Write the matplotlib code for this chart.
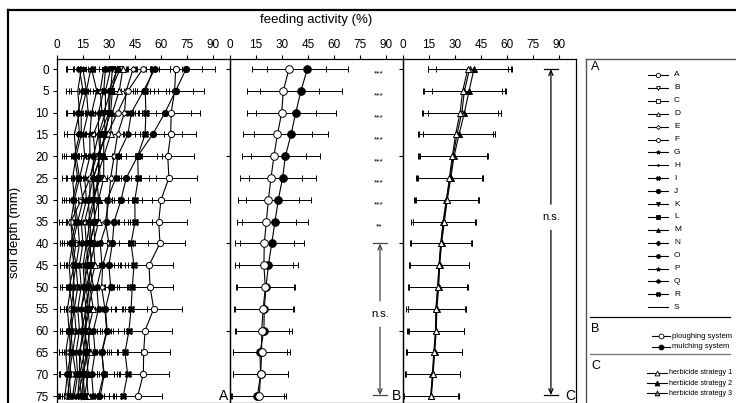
import matplotlib
matplotlib.use("Agg")
import matplotlib.pyplot as plt
from matplotlib.lines import Line2D

plt.rcParams['font.family'] = ['Liberation Sans', 'DejaVu Sans']

depths = [0, 5, 10, 15, 20, 25, 30, 35, 40, 45, 50, 55, 60, 65, 70, 75]
xticks = [0, 15, 30, 45, 60, 75, 90]

# ---- panel A: 19 treatments ----
names_a = list("ABCDEFGHIJKLMNOPQRS")
A = [68.6, 68.0, 66.0, 65.7, 64.0, 64.7, 60.1, 58.8, 59.5, 53.2, 53.8, 55.9, 50.9, 50.1, 49.9, 46.6]
A_sd = [23, 17, 16.7, 14.6, 15, 16, 16.8, 16.5, 14.5, 14, 13.4, 16.5, 15.8, 15.2, 15, 14]
B = [36.5, 31, 30, 28, 24, 25, 21, 22, 19, 20, 17, 18, 16, 17, 15, 15]
B_sd = [15, 14, 14, 13, 12, 12, 11, 11, 10, 10, 10, 9, 9, 9, 8, 8]
C = [27, 25, 26, 21, 22, 19, 19, 16, 17, 15, 16, 14, 15, 13, 13, 12]
C_sd = [13, 12, 12, 11, 11, 10, 10, 9, 9, 9, 8, 8, 8, 8, 7, 7]
D = [38, 36, 32, 31, 27, 27, 24, 24, 21, 22, 19, 21, 18, 19, 17, 18]
D_sd = [16, 15, 15, 14, 13, 13, 12, 12, 11, 11, 11, 10, 10, 10, 9, 9]
E = [44, 40, 39, 35, 33, 31, 30, 28, 30, 26.4, 25.8, 27.7, 28.7, 25.8, 27.3, 25]
E_sd = [15, 14, 13, 13, 12, 12, 11, 11, 11, 10, 10, 10, 10, 9, 9, 9]
F = [49.5, 41, 35, 29, 23, 19, 14, 8, 11, 9, 10, 8, 9, 7, 8, 6]
F_sd = [16, 15, 14, 12, 11, 10, 9, 7, 8, 7, 7, 6, 6, 6, 6, 5]
G = [20, 23, 20, 19, 19, 16, 17, 14, 15, 13, 14, 12, 13, 11, 12, 10]
G_sd = [10, 10, 10, 9, 9, 8, 8, 8, 8, 7, 7, 7, 7, 6, 6, 6]
H = [31, 28, 28, 24, 25, 21, 22, 19, 20, 17, 19, 16, 17, 15, 16, 14]
H_sd = [14, 13, 13, 12, 12, 11, 11, 10, 10, 9, 9, 9, 9, 8, 8, 8]
I = [13, 15, 12, 13, 10, 12, 9, 11, 8, 10, 7, 9, 7, 8, 6, 7]
I_sd = [8, 8, 7, 7, 7, 7, 6, 6, 6, 6, 5, 5, 5, 5, 5, 5]
J = [74.6, 68.6, 62.4, 55.3, 46.6, 40, 37, 33, 32, 30, 31, 28, 29, 26, 27, 24]
J_sd = [9, 10, 15, 16.7, 14, 13, 12, 12, 11, 11, 10, 10, 10, 9, 9, 9]
K = [32, 31, 27, 28, 24, 24, 21, 22, 19, 20, 18, 19, 16, 18, 15, 16]
K_sd = [14, 14, 13, 13, 12, 12, 11, 11, 10, 10, 10, 9, 9, 9, 8, 8]
L = [15, 17, 14, 14, 11, 13, 10, 12, 9, 11, 9, 10, 8, 9, 7, 8]
L_sd = [9, 9, 8, 8, 7, 7, 7, 7, 6, 6, 6, 6, 6, 5, 5, 5]
M = [34.5, 32, 31, 27, 27, 23, 24, 21, 22, 19, 21, 18, 19, 17, 18, 16]
M_sd = [15, 14, 14, 13, 13, 12, 12, 11, 11, 10, 10, 10, 9, 9, 9, 9]
N = [28, 27, 24, 24, 21, 21, 18, 19, 17, 18, 15, 17, 14, 16, 13, 14]
N_sd = [13, 13, 12, 12, 11, 11, 10, 10, 9, 9, 9, 9, 8, 8, 8, 8]
O = [56.5, 50, 43, 41, 35, 34, 29, 29, 25, 26, 23, 24, 21, 22, 20, 21]
O_sd = [16, 15, 14, 14, 13, 13, 12, 12, 11, 11, 10, 10, 10, 9, 9, 9]
P = [19.5, 17, 18, 15, 16, 13, 15, 12, 13, 11, 12, 10, 11, 9, 11, 9]
P_sd = [10, 9, 9, 9, 8, 8, 8, 7, 7, 7, 7, 6, 6, 6, 6, 6]
Q = [35, 30, 30, 25, 25, 21, 21, 18, 19, 16, 17, 14, 16, 13, 15, 12]
Q_sd = [15, 14, 14, 13, 12, 12, 11, 11, 10, 10, 9, 9, 9, 8, 8, 8]
R = [55.7, 51.0, 51.4, 50.9, 46.6, 47.0, 45.0, 45.1, 42.8, 44.5, 43.5, 42.8, 41.6, 39.3, 40.8, 38.3]
R_sd = [12, 12, 11, 11, 11, 10, 10, 10, 10, 9, 9, 9, 9, 9, 8, 8]
S = [14, 12, 13, 10, 11, 9, 10, 8, 9, 7, 8, 6, 7, 5, 6, 4.6]
S_sd = [8, 7, 7, 6, 6, 6, 6, 5, 5, 5, 5, 4, 4, 4, 4, 4]

series_a = [A, B, C, D, E, F, G, H, I, J, K, L, M, N, O, P, Q, R, S]
sd_a = [A_sd, B_sd, C_sd, D_sd, E_sd, F_sd, G_sd, H_sd, I_sd, J_sd, K_sd, L_sd,
        M_sd, N_sd, O_sd, P_sd, Q_sd, R_sd, S_sd]

# ---- panel B: tillage ----
names_b = ["ploughing system", "mulching system"]
plough = [34.1, 30.8, 29.9, 27.4, 25.4, 23.7, 22.2, 21.0, 19.8, 19.6, 20.4, 19.2, 18.3, 18.3, 17.7, 16.9]
plough_sd = [21.6, 20.7, 20.0, 20.0, 18.6, 17.8, 17.4, 17.0, 17.0, 16.9, 16.7, 17.0, 15.6, 16.5, 16.1, 15.5]
mulch = [44.7, 41.0, 38.0, 35.3, 32.0, 30.4, 27.9, 26.0, 24.1, 22.2, 20.8, 19.8, 19.6, 17.3, 17.7, 15.8]
mulch_sd = [23.4, 23.5, 23.2, 21.6, 19.8, 19.4, 18.9, 19.0, 18.5, 17.2, 16.7, 17.0, 16.0, 15.8, 15.7, 15.5]
signif_b = ["***", "***", "***", "***", "***", "***", "***", "**"]

# ---- panel C: herbicide ----
names_c = ["herbicide strategy 1", "herbicide strategy 2", "herbicide strategy 3"]
herb1 = [37.5, 34.5, 33.0, 30.4, 28.5, 26.8, 25.2, 23.5, 21.9, 21.0, 20.2, 19.2, 19.0, 18.0, 17.2, 16.2]
herb2 = [41.0, 38.2, 35.5, 32.4, 29.5, 27.6, 25.6, 23.9, 22.3, 21.2, 20.6, 19.6, 19.2, 18.3, 17.4, 16.4]
herb3 = [38.5, 35.5, 34.0, 31.2, 29.0, 27.2, 25.0, 23.2, 21.8, 20.8, 20.0, 19.0, 18.8, 17.8, 17.0, 16.0]
herb1_sd = [23.0, 23.0, 22.0, 21.5, 20.0, 19.0, 18.5, 18.0, 17.5, 17.3, 16.8, 16.5, 16.0, 16.0, 15.8, 16.0]
herb2_sd = [22.0, 21.6, 21.0, 21.0, 19.5, 18.8, 18.0, 18.3, 17.7, 17.0, 17.0, 16.8, 15.8, 15.8, 15.6, 15.8]
herb3_sd = [24.0, 23.5, 22.5, 22.0, 19.8, 19.3, 18.8, 18.6, 17.8, 17.5, 17.2, 17.3, 16.3, 16.2, 16.0, 15.9]

# marker styles for panel A (marker, facecolor, size)
styles_a = [('o', 'white', 4.5), ('v', 'white', 4), ('s', 'white', 3.5), ('^', 'white', 4),
            ('D', 'white', 3), ('o', 'white', 4), ('*', 'black', 4.5), ('.', 'black', 3.5),
            ('X', 'black', 4), ('o', 'black', 4.5), ('v', 'black', 4), ('s', 'black', 3.5),
            ('^', 'black', 4), ('D', 'black', 3.5), ('o', 'black', 4), ('*', 'black', 4.5),
            ('h', 'black', 4), ('X', 'black', 4.5), ('', 'black', 0)]

W, H = 736, 403
fig = plt.figure(figsize=(W / 100, H / 100), dpi=100)

ov = fig.add_axes([0, 0, 1, 1])
ov.set_xlim(0, W)
ov.set_ylim(H, 0)
ov.axis('off')

top_px, bot_px = 59, 403
def px_axes(x0, x1):
    return fig.add_axes([x0 / W, 1 - bot_px / H, (x1 - x0) / W, (bot_px - top_px) / H])

axA = px_axes(57, 230)
axB = px_axes(230, 403)
axC = px_axes(403, 576)

for ax in (axA, axB, axC):
    ax.set_xlim(0, 100)
    ax.set_ylim(76.6, -2.3)
    ax.xaxis.tick_top()
    ax.set_xticks(xticks)
    ax.tick_params(axis='x', direction='out', length=3, width=0.8, pad=3, labelsize=8.5)
    ax.patch.set_alpha(0)
    for s in ax.spines.values():
        s.set_linewidth(0.9)

axA.set_yticks(depths)
axA.tick_params(axis='y', direction='out', length=3, width=0.8, pad=3, labelsize=8.5)
for ax in (axB, axC):
    ax.set_yticks([0, 20, 40, 60])
    ax.tick_params(axis='y', direction='out', length=3, width=0.8, labelleft=False)

eb_kw = dict(color='k', lw=0.8, elinewidth=0.7, capsize=2, capthick=0.7, mec='k', mew=0.7)

for vals, sds, (mk, fc, ms) in zip(series_a, sd_a, styles_a):
    axA.errorbar(vals, depths, xerr=sds, marker=mk if mk else None, mfc=fc, ms=ms, **eb_kw)

axB.errorbar(plough, depths, xerr=plough_sd, marker='o', mfc='white', ms=5.5, zorder=3, **eb_kw)
axB.errorbar(mulch, depths, xerr=mulch_sd, marker='o', mfc='black', ms=5.5, zorder=2, **eb_kw)
for d, s in zip(depths, signif_b):
    axB.text(86, d + 1.2, s, fontsize=6, ha='center', va='center')

axC.errorbar(herb1, depths, xerr=herb1_sd, marker='^', mfc='white', ms=5, zorder=3, **eb_kw)
axC.errorbar(herb2, depths, xerr=herb2_sd, marker='^', mfc='black', ms=5, zorder=2, **eb_kw)
axC.errorbar(herb3, depths, xerr=herb3_sd, marker='^', mfc='#8c8c8c', ms=5, zorder=2, **eb_kw)

def ns_bracket(ax, x, d0, d1, dtext, gap, color):
    ax.plot([x - 4, x + 4], [d0, d0], color=color, lw=0.9)
    ax.plot([x - 4, x + 4], [d1, d1], color=color, lw=0.9)
    ap = dict(arrowstyle='->,head_length=0.35,head_width=0.15', color=color, lw=0.9,
              shrinkA=0, shrinkB=0)
    ax.annotate('', xy=(x, d0), xytext=(x, dtext - gap), arrowprops=ap)
    ax.annotate('', xy=(x, d1), xytext=(x, dtext + gap), arrowprops=ap)
    ax.text(x, dtext, 'n.s.', fontsize=8, ha='center', va='center')

ns_bracket(axB, 86.7, 40, 74.8, 56.2, 3.0, '#444444')
ns_bracket(axC, 85.5, 0, 74.8, 34.0, 3.0, 'black')

for ax, lab in ((axA, 'A'), (axB, 'B'), (axC, 'C')):
    ax.text(96.5, 75, lab, fontsize=10, ha='center', va='center')

# titles
ov.text(316, 20, 'feeding activity (%)', fontsize=9.5, ha='center', va='center')
ov.text(15, 232, 'soil depth (mm)', fontsize=9.5, ha='center', va='center', rotation=90)

# outer frame
ov.plot([8, W + 5], [10, 10], color='k', lw=1.6, clip_on=False)
ov.plot([8, 8], [10, H + 5], color='k', lw=1.6, clip_on=False)

# legend box
ov.plot([586, W + 5], [59, 59], color='#555555', lw=1.0)
ov.plot([586, 586], [59, H + 5], color='#555555', lw=1.0)
ov.plot([590, 730], [317, 317], color='black', lw=0.9)
ov.plot([590, 730], [354, 354], color='#777777', lw=0.9)

ov.text(591, 67, 'A', fontsize=9, ha='left', va='center')
for i, (nm, (mk, fc, ms)) in enumerate(zip(names_a, styles_a)):
    y = 75 + i * 12.9
    ov.add_line(Line2D([648, 668], [y, y], color='k', lw=0.8))
    if mk:
        ov.add_line(Line2D([658], [y], marker=mk, mfc=fc, mec='k', ms=ms * 0.7, mew=0.6))
    ov.text(674, y, nm, fontsize=6, ha='left', va='center')

ov.text(591, 329, 'B', fontsize=9, ha='left', va='center')
for i, (nm, fc) in enumerate(zip(names_b, ['white', 'black'])):
    y = 336 + i * 10.5
    ov.add_line(Line2D([652, 670], [y, y], color='k', lw=0.8))
    ov.add_line(Line2D([661], [y], marker='o', mfc=fc, mec='k', ms=3.5, mew=0.6))
    ov.text(672, y, nm, fontsize=5.5, ha='left', va='center')

ov.text(591, 366, 'C', fontsize=9, ha='left', va='center')
for i, (nm, fc) in enumerate(zip(names_c, ['white', 'black', '#8c8c8c'])):
    y = 373 + i * 10.2
    ov.add_line(Line2D([647, 667], [y, y], color='k', lw=0.8))
    ov.add_line(Line2D([657], [y], marker='^', mfc=fc, mec='k', ms=3.5, mew=0.6))
    ov.text(669, y, nm, fontsize=5.2, ha='left', va='center')

fig.savefig('out.png', dpi=100)
